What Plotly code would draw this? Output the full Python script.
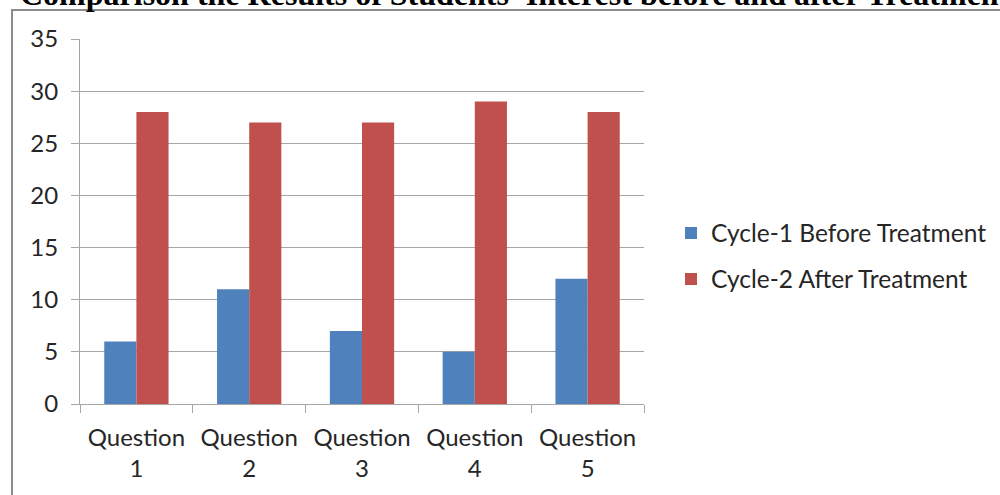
import plotly.graph_objects as go

categories = ["Question<br>1", "Question<br>2", "Question<br>3", "Question<br>4", "Question<br>5"]
before_treatment = [6, 11, 7, 5, 12]
after_treatment = [28, 27, 27, 29, 28]
series_names = ["Cycle-1 Before Treatment", "Cycle-2 After Treatment"]
y_ticks = [0, 5, 10, 15, 20, 25, 30, 35]
title_text = "Comparison the Results of Students' Interest before and after Treatment"

BLUE = "#4F81BD"
RED = "#C0504D"
GRID = "#A6A6A6"
TEXT = "#262626"
FONT = "Lato"

W, H = 1000, 495
L, R, T, B = 80, 356, 39, 91
PW, PH = W - L - R, H - T - B


def px_x(x):
    return (x - L) / PW


def px_y(y):
    return (H - B - y) / PH


fig = go.Figure()
fig.add_trace(go.Bar(
    x=categories, y=before_treatment, name=series_names[0],
    marker=dict(color=BLUE, line=dict(width=0)), legend="legend",
))
fig.add_trace(go.Bar(
    x=categories, y=after_treatment, name=series_names[1],
    marker=dict(color=RED, line=dict(width=0)), legend="legend2",
))

legend_style = dict(
    font=dict(family=FONT, size=24.5, color=TEXT),
    bgcolor="rgba(0,0,0,0)", itemsizing="constant",
    xanchor="left", yanchor="middle", itemwidth=30,
)

fig.update_layout(
    width=W, height=H,
    margin=dict(l=L, r=R, t=T, b=B, autoexpand=False),
    paper_bgcolor="white", plot_bgcolor="white",
    barmode="group", bargap=0.43, bargroupgap=0,
    showlegend=True,
    legend=dict(x=px_x(671), y=px_y(233), **legend_style),
    legend2=dict(x=px_x(671), y=px_y(279), **legend_style),
    font=dict(family=FONT, size=24, color=TEXT),
    xaxis=dict(
        type="category", showgrid=False, showline=True, linecolor=GRID, linewidth=1,
        ticks="outside", tickson="boundaries", ticklen=8, tickcolor=GRID,
        tickfont=dict(family=FONT, size=24, color=TEXT), ticklabelstandoff=12,
    ),
    yaxis=dict(
        range=[0, 35], tickvals=y_ticks, showgrid=True, gridcolor=GRID, gridwidth=1,
        showline=True, linecolor=GRID, linewidth=1, zeroline=False,
        ticks="outside", ticklen=8, tickcolor=GRID,
        tickfont=dict(family=FONT, size=24, color=TEXT), ticklabelstandoff=8,
    ),
    shapes=[dict(
        type="rect", xref="paper", yref="paper",
        x0=px_x(12), x1=px_x(1100), y0=px_y(600), y1=px_y(10),
        line=dict(color="#8C8C8C", width=2), fillcolor="rgba(0,0,0,0)", layer="below",
    )],
    annotations=[dict(
        text=f"<b>{title_text}</b>", xref="paper", yref="paper",
        x=px_x(18), y=px_y(14), xanchor="left", yanchor="bottom", showarrow=False,
        font=dict(family="Liberation Serif", size=32, color="black"),
    )],
)

fig.write_html("out.html")
